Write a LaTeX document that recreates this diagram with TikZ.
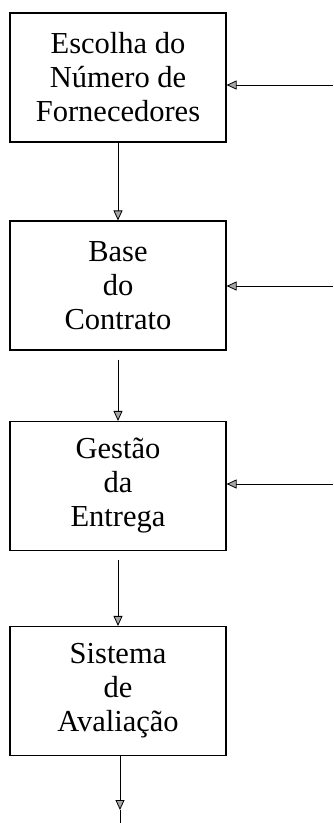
\documentclass[tikz,border=0pt]{standalone}
\usepackage{fontspec}
\setmainfont{Liberation Serif}
\usetikzlibrary{arrows.meta}
\begin{document}
\begin{tikzpicture}[x=1pt,y=-1pt,
  stepbox/.style={draw,line width=1.1pt,minimum width=216pt,minimum height=129pt,
    inner sep=0pt,align=center,font=\fontsize{30.5}{34}\selectfont},
  arr/.style={line width=0.8pt,-{Triangle[width=9pt,length=10pt,fill=gray!70,line width=0.8pt]}}]
\useasboundingbox (0,0) rectangle (333,823);
\node[stepbox] (a) at (118,77.5) {Escolha do\\Número de\\Fornecedores};
\node[stepbox] (b) at (118,285.5) {Base\\do\\Contrato};
\node[stepbox] (c) at (118,486) {Gestão\\da\\Entrega};
\node[stepbox] (d) at (118,691) {Sistema\\de\\Avaliação};
\coordinate (ra) at (333,85);
\coordinate (rb) at (333,286);
\coordinate (rc) at (333,484);
\coordinate (m) at (120,810);
\coordinate (e) at (120,823);
\draw[arr] (a.south) -- (b.north);
\draw[arr] ([yshift=-9pt]b.south) -- (c.north);
\draw[arr] ([yshift=-9pt]c.south) -- (d.north);
\draw[arr] (d.south -| m) -- (m);
\draw[line width=0.8pt] (m) -- (e);
\draw[arr] (ra) -- (ra -| a.east);
\draw[arr] (rb) -- (rb -| b.east);
\draw[arr] (rc) -- (rc -| c.east);
\end{tikzpicture}
\end{document}
